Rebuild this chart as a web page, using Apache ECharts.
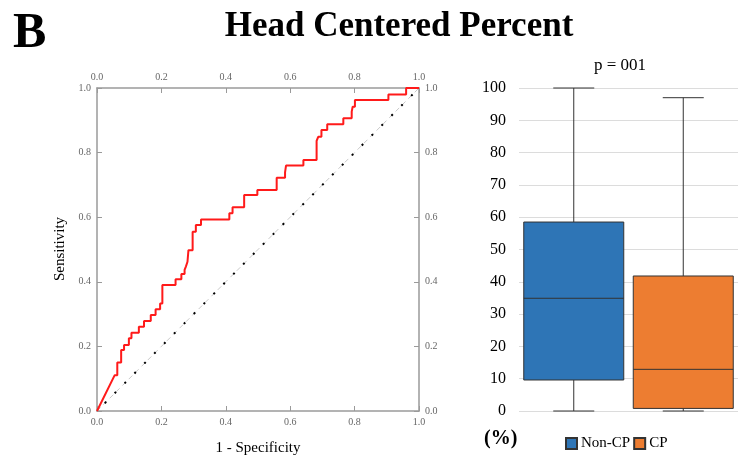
<!DOCTYPE html>
<html>
<head>
<meta charset="utf-8">
<title>Head Centered Percent</title>
<script src="https://cdn.jsdelivr.net/npm/echarts@6/dist/echarts.min.js"></script>
<style>
  html, body { margin: 0; padding: 0; background: #fff; }
  #chart { width: 742px; height: 459px; }
</style>
</head>
<body>
<div id="chart"></div>
<script>
// ROC curve vertices (1 - specificity, sensitivity)
const rocFpr = [0, 0.055, 0.063, 0.063, 0.075, 0.075, 0.084, 0.084, 0.099, 0.099, 0.107, 0.107,
  0.130, 0.130, 0.146, 0.146, 0.167, 0.167, 0.182, 0.182, 0.196, 0.196, 0.203, 0.203,
  0.244, 0.244, 0.262, 0.262, 0.272, 0.272, 0.276, 0.276, 0.281, 0.281, 0.284, 0.284,
  0.297, 0.297, 0.307, 0.307, 0.323, 0.323, 0.411, 0.411, 0.421, 0.421, 0.457, 0.457,
  0.498, 0.498, 0.558, 0.558, 0.584, 0.584, 0.587, 0.587, 0.641, 0.641, 0.682, 0.682,
  0.687, 0.687, 0.697, 0.697, 0.715, 0.715, 0.765, 0.765, 0.791, 0.791, 0.794, 0.794,
  0.801, 0.801, 0.905, 0.905, 0.960, 0.960, 1.0];
const rocTpr = [0, 0.111, 0.111, 0.150, 0.150, 0.189, 0.189, 0.204, 0.204, 0.225, 0.225, 0.242,
  0.242, 0.261, 0.261, 0.279, 0.279, 0.297, 0.297, 0.315, 0.315, 0.333, 0.333, 0.390,
  0.390, 0.408, 0.408, 0.424, 0.424, 0.437, 0.437, 0.447, 0.447, 0.462, 0.462, 0.498,
  0.498, 0.555, 0.555, 0.576, 0.576, 0.593, 0.593, 0.612, 0.612, 0.631, 0.631, 0.669,
  0.669, 0.684, 0.684, 0.722, 0.722, 0.739, 0.739, 0.760, 0.760, 0.777, 0.777, 0.836,
  0.836, 0.849, 0.849, 0.870, 0.870, 0.888, 0.888, 0.906, 0.906, 0.927, 0.927, 0.942,
  0.942, 0.963, 0.963, 0.980, 0.980, 1.0, 1.0];
const refLine = [[0, 0], [1, 1]];

// Box plot summary per group (%)
const groups = ['Non-CP', 'CP'];
const boxMin = [0, 0];
const boxQ1 = [9.6, 0.8];
const boxMedian = [34.9, 12.9];
const boxQ3 = [58.5, 41.8];
const boxMax = [100, 97];
const groupColors = ['#2E75B6', '#ED7D31'];

const serif = '"Liberation Serif", "Times New Roman", serif';
const rocPoints = rocFpr.map((x, i) => [x, rocTpr[i]]);

function rocAxis(pos) {
  return {
    type: 'value', position: pos, min: 0, max: 1, interval: 0.2, gridIndex: 0,
    axisLine: { show: true, onZero: false, lineStyle: { color: '#9a9a9a', width: 1.5 } },
    axisTick: { show: true, inside: true, length: 5, lineStyle: { color: '#9a9a9a' } },
    splitLine: { show: false },
    axisLabel: { fontFamily: serif, fontSize: 10, color: '#666', margin: 6,
      formatter: v => v.toFixed(1) }
  };
}

// Box, whiskers and median drawn through the category/value scales
function renderBox(params, api) {
  const x = api.value(0);
  const pMin = api.coord([x, api.value(1)]);
  const pQ1 = api.coord([x, api.value(2)]);
  const pMed = api.coord([x, api.value(3)]);
  const pQ3 = api.coord([x, api.value(4)]);
  const pMax = api.coord([x, api.value(5)]);
  const cx = pMed[0];
  const half = 50, cap = 20.5;
  const stroke = { stroke: '#333', lineWidth: 1 };
  return {
    type: 'group',
    children: [
      { type: 'line', shape: { x1: cx, y1: pQ3[1], x2: cx, y2: pMax[1] }, style: stroke },
      { type: 'line', shape: { x1: cx - cap, y1: pMax[1], x2: cx + cap, y2: pMax[1] }, style: stroke },
      { type: 'line', shape: { x1: cx, y1: pQ1[1], x2: cx, y2: pMin[1] }, style: stroke },
      { type: 'line', shape: { x1: cx - cap, y1: pMin[1], x2: cx + cap, y2: pMin[1] }, style: stroke },
      { type: 'rect', shape: { x: cx - half, y: pQ3[1], width: half * 2, height: pQ1[1] - pQ3[1] },
        style: { fill: api.visual('color'), stroke: '#333', lineWidth: 1 } },
      { type: 'line', shape: { x1: cx - half, y1: pMed[1], x2: cx + half, y2: pMed[1] }, style: stroke }
    ]
  };
}

const chart = echarts.init(document.getElementById('chart'), null, { renderer: 'canvas' });
chart.setOption({
  backgroundColor: '#fff',
  animation: false,
  textStyle: { fontFamily: serif },
  title: [
    { text: 'Head Centered Percent', left: 394, top: 4, textAlign: 'center',
      textStyle: { fontFamily: serif, fontSize: 35, fontWeight: 'bold', color: '#000' } },
    { text: 'B', left: 8, top: 4,
      textStyle: { fontFamily: serif, fontSize: 50, fontWeight: 'bold', color: '#000' } },
    { text: 'p = 001', left: 615, top: 52, textAlign: 'center',
      textStyle: { fontFamily: serif, fontSize: 17, fontWeight: 'normal', color: '#000' } }
  ],
  graphic: [
    { type: 'text', left: 484, top: 429,
      style: { text: '(%)', font: 'bold 20px ' + serif, fill: '#000' } },
    { type: 'text', x: 60, y: 249, rotation: Math.PI / 2,
      style: { text: 'Sensitivity', font: '15px ' + serif, fill: '#000',
        align: 'center', verticalAlign: 'middle' } },
    { type: 'text', x: 258, y: 448,
      style: { text: '1 - Specificity', font: '15px ' + serif, fill: '#000',
        align: 'center', verticalAlign: 'middle' } }
  ],
  legend: {
    left: 560, top: 431, itemWidth: 11, itemHeight: 11, itemGap: 3,
    icon: 'rect',
    textStyle: { fontFamily: serif, fontSize: 15, color: '#000', padding: [0, 0, 0, -1] },
    data: groups
  },
  grid: [
    { left: 97, right: 323, top: 88, bottom: 48 },
    { left: 519, right: 4, top: 88, bottom: 48 }
  ],
  xAxis: [
    rocAxis('bottom'),
    rocAxis('top'),
    { type: 'category', gridIndex: 1, data: groups,
      axisLine: { show: false }, axisTick: { show: false }, axisLabel: { show: false },
      splitLine: { show: false } }
  ],
  yAxis: [
    rocAxis('left'),
    rocAxis('right'),
    { type: 'value', gridIndex: 1, min: 0, max: 100, interval: 10,
      axisLine: { show: false }, axisTick: { show: false },
      axisLabel: { fontFamily: serif, fontSize: 16, color: '#000', margin: 13 },
      splitLine: { show: true, lineStyle: { color: '#dcdcdc', width: 1 } } }
  ],
  series: [
    { type: 'line', xAxisIndex: 0, yAxisIndex: 0, data: refLine, symbol: 'none',
      lineStyle: { color: '#c8c8c8', width: 1, type: [5, 4] }, silent: true },
    { type: 'line', xAxisIndex: 0, yAxisIndex: 0, data: refLine, symbol: 'none',
      lineStyle: { color: '#000', width: 2, type: [2, 12], dashOffset: 3 }, silent: true },
    { type: 'line', xAxisIndex: 0, yAxisIndex: 0, data: rocPoints, symbol: 'none',
      lineStyle: { color: '#ff1a1a', width: 2 }, silent: true },
    { name: groups[0], type: 'custom', xAxisIndex: 2, yAxisIndex: 2, renderItem: renderBox,
      itemStyle: { color: groupColors[0], borderColor: '#333', borderWidth: 1 },
      data: [[0, boxMin[0], boxQ1[0], boxMedian[0], boxQ3[0], boxMax[0]]],
      encode: { x: 0, y: [1, 2, 3, 4, 5] } },
    { name: groups[1], type: 'custom', xAxisIndex: 2, yAxisIndex: 2, renderItem: renderBox,
      itemStyle: { color: groupColors[1], borderColor: '#333', borderWidth: 1 },
      data: [[1, boxMin[1], boxQ1[1], boxMedian[1], boxQ3[1], boxMax[1]]],
      encode: { x: 0, y: [1, 2, 3, 4, 5] } }
  ]
});
</script>
</body>
</html>
